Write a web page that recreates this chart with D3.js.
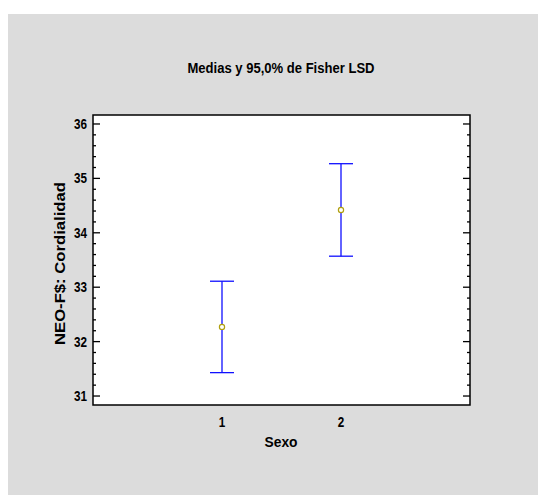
<!DOCTYPE html>
<html>
<head>
<meta charset="utf-8">
<script src="https://cdn.jsdelivr.net/npm/d3@7"></script>
<style>
  body { margin: 0; background: #ffffff; }
  svg text { font-family: "Liberation Sans Narrow", "Arial Narrow", "Liberation Sans", Arial, sans-serif; font-weight: bold; fill: #000; }
</style>
</head>
<body>
<svg id="chart" width="538" height="495"></svg>
<script>
// Group means with 95% Fisher LSD intervals
const groups = ["1", "2"];
const means = [32.27, 34.42];
const lower = [31.43, 33.57];
const upper = [33.11, 35.27];
const yTicks = [31, 32, 33, 34, 35, 36];

const svg = d3.select("#chart");
const W = 538, H = 495;
const plot = { left: 93, top: 115, right: 470, bottom: 405 };

// panel background
svg.append("rect").attr("x", 8).attr("y", 14).attr("width", W - 8).attr("height", H - 14)
  .attr("fill", "#dcdcdc");

const x = d3.scaleLinear().domain([-0.084, 3.084]).range([plot.left, plot.right]);
const y = d3.scaleLinear().domain([30.835, 36.165]).range([plot.bottom, plot.top]);

// plot area
svg.append("rect").attr("x", plot.left).attr("y", plot.top)
  .attr("width", plot.right - plot.left).attr("height", plot.bottom - plot.top)
  .attr("fill", "#fff");

// y ticks (major + minor) on both sides, pointing inward
const minor = d3.range(31, 36.001, 0.2).filter(v => Math.abs(v - Math.round(v)) > 1e-6);
const tickG = svg.append("g").attr("stroke", "#000").attr("stroke-width", 1.3);
yTicks.forEach(v => {
  tickG.append("line").attr("x1", plot.left).attr("x2", plot.left + 7).attr("y1", y(v)).attr("y2", y(v));
  tickG.append("line").attr("x1", plot.right).attr("x2", plot.right - 7).attr("y1", y(v)).attr("y2", y(v));
});
minor.forEach(v => {
  tickG.append("line").attr("x1", plot.left).attr("x2", plot.left + 3).attr("y1", y(v)).attr("y2", y(v));
  tickG.append("line").attr("x1", plot.right).attr("x2", plot.right - 3).attr("y1", y(v)).attr("y2", y(v));
});

// y tick labels (condensed)
svg.append("g").selectAll("text").data(yTicks).join("text")
  .attr("x", plot.left - 6).attr("y", d => y(d) + 5)
  .attr("text-anchor", "end").attr("font-size", 14)
  .attr("textLength", 13).attr("lengthAdjust", "spacingAndGlyphs")
  .text(d => d);

// x tick labels
svg.append("g").selectAll("text").data(groups).join("text")
  .attr("x", (d, i) => x(i + 1)).attr("y", plot.bottom + 22)
  .attr("text-anchor", "middle").attr("font-size", 14)
  .attr("textLength", 6.5).attr("lengthAdjust", "spacingAndGlyphs")
  .text(d => d);

// frame
svg.append("rect").attr("x", plot.left).attr("y", plot.top)
  .attr("width", plot.right - plot.left).attr("height", plot.bottom - plot.top)
  .attr("fill", "none").attr("stroke", "#000").attr("stroke-width", 1.5);

// error bars
const bars = svg.append("g").attr("stroke", "#1010ff").attr("stroke-width", 1.3);
groups.forEach((g, i) => {
  const cx = x(i + 1);
  bars.append("line").attr("x1", cx).attr("x2", cx).attr("y1", y(lower[i])).attr("y2", y(upper[i]));
  bars.append("line").attr("x1", cx - 12).attr("x2", cx + 12).attr("y1", y(upper[i])).attr("y2", y(upper[i]));
  bars.append("line").attr("x1", cx - 12).attr("x2", cx + 12).attr("y1", y(lower[i])).attr("y2", y(lower[i]));
});

// mean markers
svg.append("g").selectAll("circle").data(means).join("circle")
  .attr("cx", (d, i) => x(i + 1)).attr("cy", d => y(d)).attr("r", 2.6)
  .attr("fill", "#fff").attr("stroke", "#b0a010").attr("stroke-width", 1.2);

// titles
svg.append("text").attr("x", 281).attr("y", 73).attr("text-anchor", "middle")
  .attr("font-size", 14).attr("textLength", 187).attr("lengthAdjust", "spacingAndGlyphs")
  .text("Medias y 95,0% de Fisher LSD");
svg.append("text").attr("x", 281).attr("y", 447).attr("text-anchor", "middle")
  .attr("font-size", 14).attr("textLength", 33).attr("lengthAdjust", "spacingAndGlyphs")
  .text("Sexo");
svg.append("text").attr("transform", `translate(65,${(182 + 345) / 2}) rotate(-90)`)
  .attr("text-anchor", "middle").attr("font-size", 14)
  .attr("textLength", 163).attr("lengthAdjust", "spacingAndGlyphs")
  .text("NEO-F$: Cordialidad");
</script>
</body>
</html>
